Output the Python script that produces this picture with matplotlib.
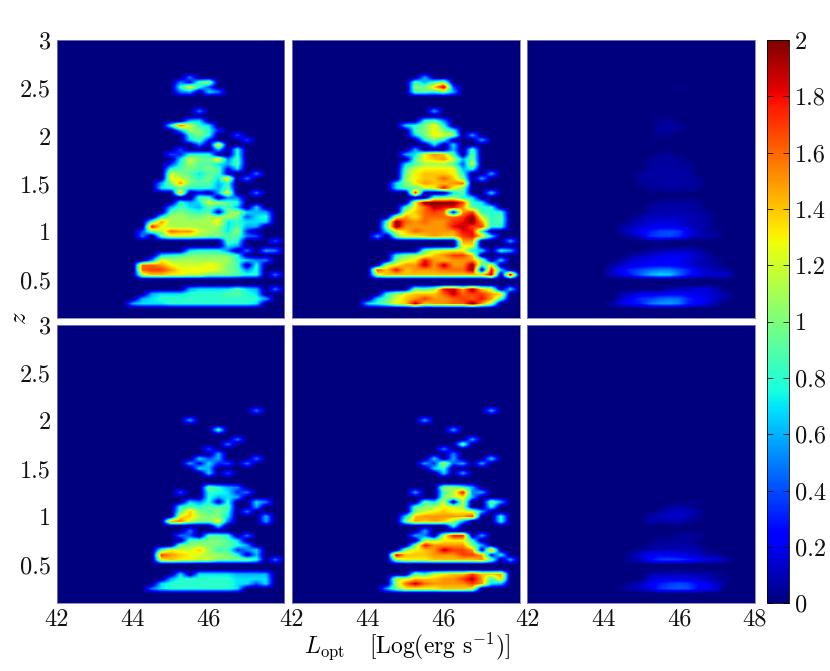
import numpy as np
import matplotlib
matplotlib.use("Agg")
import matplotlib.pyplot as plt
from matplotlib.cm import ScalarMappable
from matplotlib.colors import Normalize

L_nodes = [42 + 0.25 * i for i in range(25)]
z_nodes = [round(0.10 + 0.05 * i, 2) for i in range(59)]
FIRST_COL_L = 44.0   # column 0 of the sparse rows below

# values in tenths: {z: {column: value}}
top_left = {
 2.60:{6:5}, 2.55:{5:5,6:2,7:9,8:11}, 2.50:{5:8,6:13,7:8,8:4}, 2.45:{5:5,6:6,8:7,9:5},
 2.25:{7:5}, 2.15:{6:6,7:7}, 2.10:{4:8,5:16,6:12,7:8,8:7}, 2.05:{5:6,6:11,7:10,8:8,9:3},
 2.00:{6:8,7:10,8:8,11:4}, 1.95:{6:7,7:9,8:3,12:4}, 1.90:{7:5,9:14}, 1.85:{5:4,9:6,11:8},
 1.80:{4:4,5:3,6:8,7:8,8:8,11:8}, 1.75:{5:7,6:12,7:10,8:9,9:14,10:5,11:9},
 1.70:{4:3,5:8,6:11,7:9,8:9,9:7,10:6,11:9}, 1.65:{4:8,5:9,6:10,7:9,8:10,9:9,10:2,11:7},
 1.60:{4:12,5:10,6:9,7:7,8:9,9:9,10:1,13:5}, 1.55:{4:13,5:12,6:10,7:8,8:10,9:7,10:14,12:5},
 1.50:{3:6,4:10,5:15,6:10,7:9,8:9,9:6,10:8}, 1.45:{3:7,4:8,5:9,6:8,7:8,8:8,9:6,10:9},
 1.40:{5:15,7:2,9:6,10:13,13:5}, 1.35:{7:9,8:9,10:5,11:5},
 1.30:{5:8,6:6,7:7,8:12,9:11,10:9,11:8}, 1.25:{4:6,5:9,6:7,7:6,8:9,9:7,10:9,11:6,13:7},
 1.20:{4:9,5:10,6:9,7:8,8:9,9:1,10:10,11:11,12:7,13:6,14:6},
 1.15:{3:8,4:11,5:11,6:10,7:10,8:11,9:11,10:11,11:10,12:4,13:7,14:8},
 1.10:{2:9,3:15,4:11,5:11,6:11,7:11,8:11,9:13,10:7,11:8,12:7,13:7,14:7},
 1.05:{2:18,3:13,4:11,5:11,6:11,7:11,8:11,9:11,10:7,11:9,12:6,13:6},
 1.00:{1:4,2:10,3:11,4:16,5:15,6:15,7:12,8:11,9:10,10:7,11:11,12:3},
 0.95:{1:5,3:9,4:12,5:12,6:12,7:11,8:10,9:10,10:9,11:9,12:5,13:4},
 0.90:{10:9,11:8,15:4}, 0.85:{10:7,11:6},
 0.80:{6:7,7:8,8:8,9:8,10:5,12:5,14:6,15:5},
 0.75:{3:7,4:8,5:9,6:10,7:10,8:10,9:10,10:10,11:8},
 0.70:{2:5,3:13,4:11,5:11,6:11,7:11,8:11,9:11,10:11,11:8,12:7,13:5,14:5},
 0.65:{1:16,2:16,3:15,4:13,5:12,6:12,7:12,8:13,9:12,10:10,11:9,13:8},
 0.60:{1:16,2:17,3:17,4:15,5:13,6:13,7:13,8:13,9:12,10:10,11:9,12:5,13:8},
 0.55:{1:12,2:14,3:14,4:13,5:13,6:12,7:12,8:10,9:10,10:10,11:9,12:8,13:8,15:5},
 0.40:{6:6,7:7,8:7,9:7,10:7,11:9,12:7,13:6,15:5},
 0.35:{2:6,3:7,4:7,5:7,6:8,7:8,8:8,9:8,10:9,11:9,12:8,13:7},
 0.30:{1:6,2:7,3:8,4:8,5:8,6:8,7:8,8:8,9:8,10:8,11:8,12:8,13:8,14:6},
 0.25:{0:6,1:7,2:7,3:7,4:8,5:8,6:8,7:8,8:8,9:8,10:8,11:8,12:8,13:7},
}
top_mid = {
 2.60:{6:6}, 2.55:{5:9,6:6,7:9,8:11}, 2.50:{5:10,6:10,7:14,8:19,9:4}, 2.45:{5:9,6:9,7:8,8:10,9:6},
 2.25:{7:6}, 2.15:{6:8,7:9,8:5}, 2.10:{4:7,5:8,6:10,7:13,8:8}, 2.05:{5:9,6:10,7:13,8:10,9:8},
 2.00:{5:7,6:10,7:13,8:12,9:11,11:6}, 1.95:{6:8,7:10,8:8,12:6}, 1.90:{7:7,9:7}, 1.85:{5:6,9:6,11:9},
 1.80:{4:6,5:7,6:13,7:15,8:14,9:9,11:10}, 1.75:{5:9,6:13,7:14,8:15,9:12,10:6,11:10},
 1.70:{4:7,5:9,6:11,7:11,8:11,9:9,10:4,11:12}, 1.65:{4:9,5:12,6:13,7:13,8:13,9:13,10:6,11:8},
 1.60:{4:10,5:13,6:14,7:14,8:14,9:13,10:8,13:6}, 1.55:{4:11,5:13,6:14,7:14,8:16,9:14,10:10,12:6},
 1.50:{3:7,4:10,5:13,6:15,7:14,8:14,9:15,10:16}, 1.45:{3:7,4:9,5:9,6:12,7:13,8:18,9:13,10:10},
 1.40:{5:18,9:7,10:9,13:7}, 1.35:{7:10,8:10,9:11,10:8,11:7},
 1.30:{5:13,6:20,7:20,8:20,9:20,10:17,11:8,12:7}, 1.25:{4:9,5:13,6:16,7:19,8:18,9:18,10:15,11:9,12:8,13:8},
 1.20:{4:12,5:14,6:16,7:17,8:16,9:1,10:15,11:17,12:8,13:8,14:8},
 1.15:{3:12,4:15,5:13,6:16,7:16,8:16,9:16,10:17,11:20,12:12,13:8,14:9},
 1.10:{2:9,3:20,4:16,5:15,6:16,7:15,8:15,9:17,10:18,11:20,12:15,13:8,14:9},
 1.05:{2:10,3:20,4:15,5:15,6:15,7:15,8:15,9:18,10:19,11:17,12:17,13:8,14:8},
 1.00:{2:7,3:12,4:14,5:16,6:15,7:15,8:15,9:15,10:18,11:18,12:8},
 0.95:{1:6,3:10,4:13,5:13,6:14,7:15,8:14,9:14,10:17,11:18,12:14,13:7},
 0.90:{10:15,11:15,15:6}, 0.85:{10:13,11:13},
 0.80:{6:10,7:12,8:13,9:13,10:13,11:7,12:7,14:8,15:6},
 0.75:{3:8,4:10,5:11,6:12,7:14,8:15,9:17,10:17,11:14},
 0.70:{3:10,4:12,5:13,6:18,7:15,8:14,9:15,10:15,11:15,12:11,14:7},
 0.65:{2:12,3:13,4:15,5:15,6:19,7:15,8:19,9:15,10:15,11:20,12:9,13:13},
 0.60:{1:17,2:14,3:18,4:14,5:15,6:15,7:15,8:16,9:16,10:16,11:20,12:0,13:18,14:7},
 0.55:{1:12,2:14,3:14,4:14,5:14,6:14,7:14,8:14,9:14,10:14,11:14,12:14,13:19,15:20},
 0.40:{5:10,6:9,7:11,8:18,9:19,10:15,11:20,12:14,13:12,15:7},
 0.35:{2:8,3:11,4:13,5:14,6:14,7:14,8:16,9:19,10:16,11:17,12:17,13:15,14:14},
 0.30:{1:7,2:9,3:12,4:14,5:15,6:17,7:15,8:15,9:16,10:17,11:16,12:18,13:15,14:9},
 0.25:{0:7,1:8,2:10,3:13,4:14,5:19,6:14,7:15,8:15,9:16,10:16,11:20,12:15,13:11},
}
top_right = {
 2.50:{8:0.3}, 2.15:{6:0.4,7:0.5}, 2.10:{6:0.5,7:0.6,8:0.4}, 2.05:{6:0.5,7:0.5,8:0.3}, 2.00:{6:0.4,7:0.4},
 1.80:{6:.4,7:.5}, 1.75:{5:.3,6:.5,7:.6,8:.5}, 1.70:{5:.5,6:.6,7:.6,8:.6,9:.4},
 1.65:{5:.5,6:.6,7:.7,8:.6,9:.6}, 1.60:{4:.5,5:.7,6:.7,7:.7,8:.7,9:.6},
 1.55:{4:.5,5:.6,6:.6,7:.7,8:.6,9:.6,10:.4}, 1.50:{4:.4,5:.5,6:.6,7:.7,8:.7,9:.6,10:.5},
 1.45:{5:.4,6:.6,7:.6,8:.6,9:.5,10:.3}, 1.30:{6:.5,7:.6,8:.6,9:.6,10:.4},
 1.25:{5:.6,6:.8,7:.8,8:.8,9:.7,10:.5}, 1.20:{5:.7,6:.8,7:.8,8:.8,9:.7,10:.7,11:.3},
 1.15:{4:.8,5:1,6:1.2,7:1.2,8:1.2,9:1,10:.8,11:.6}, 1.10:{3:.6,4:1,5:1.4,6:1.6,7:1.6,8:1.4,9:1,10:.8,11:.6},
 1.05:{2:.6,3:1,4:1.4,5:1.9,6:2,7:2,8:1.8,9:1.3,10:.8,11:.6},
 1.00:{2:.7,3:1.5,4:2.2,5:3,6:3.8,7:4,8:3.6,9:2,10:1,11:.6,12:.3},
 0.95:{3:.8,4:1.5,5:3.4,6:3.8,7:4,8:3.4,9:1.6,10:1,11:.7,12:.5},
 0.90:{6:.5}, 0.80:{5:.5,6:.8,7:1,8:1.2,9:1.2,10:.8},
 0.75:{3:.5,4:1,5:1.4,6:1.8,7:2,8:2,9:1.8,10:1.2,11:.7},
 0.70:{2:.6,3:1.4,4:1.8,5:2,6:2.4,7:2.4,8:2.2,9:1.6,10:1.2,11:.7,12:.4},
 0.65:{1:.6,2:1.2,3:1.8,4:2,5:2.2,6:2.4,7:2.4,8:2,9:1.6,10:1,11:.8,12:.5},
 0.60:{1:1.4,2:2.4,3:3.4,4:4,5:4.6,6:5,7:5,8:4.2,9:3.2,10:1.8,11:1.2,12:.8,13:.6},
 0.55:{1:1.2,2:2,3:3.2,4:4.5,5:6,6:6.8,7:6.6,8:4.6,9:3,10:2,11:1.5,12:1.6,13:1.6},
 0.40:{7:.8,8:1,9:1.2,10:1.6,11:1.6,12:.8},
 0.35:{2:.8,3:1.2,4:2,5:2,6:2,7:2.2,8:2.2,9:2,10:1.8,11:1.6,12:1.2,13:.7},
 0.30:{2:1.4,3:2.4,4:3.4,5:3.6,6:4.4,7:4.8,8:4.6,9:3.2,10:2.4,11:2,12:1.2,13:.6},
 0.25:{1:.8,2:1.8,3:2.6,4:3,5:4.8,6:5.4,7:5.6,8:5,9:3,10:2.4,11:1.6,12:.6},
}
bottom_left = {
 2.10:{13:5}, 2.00:{6:6}, 1.90:{9:9}, 1.80:{11:5}, 1.75:{10:5}, 1.70:{8:4}, 1.65:{9:6},
 1.60:{7:7,8:4,9:6,13:5}, 1.55:{6:6,7:2,8:7,9:3,10:4,12:5}, 1.50:{7:7,8:6}, 1.45:{8:7,10:4},
 1.30:{8:10,9:8,10:6,11:5}, 1.25:{5:4,8:8,9:8,10:7,11:3,12:5}, 1.20:{8:8,9:6,10:7,11:6},
 1.15:{6:7,7:5,8:8,9:1,10:8,13:7,14:5}, 1.10:{5:8,6:9,7:8,8:9,9:9,10:9,13:6},
 1.05:{5:9,6:14,7:10,8:9,9:10,10:8,12:5}, 1.00:{5:13,6:14,7:11,8:10,9:10,10:7,14:6},
 0.95:{4:15,5:16,6:12,7:10,8:10,9:13,10:5,14:6}, 0.90:{9:7}, 0.85:{6:5},
 0.80:{5:5,6:4,8:9,9:9,10:8,12:5}, 0.75:{6:9,7:9,8:10,9:10,10:9,11:7},
 0.70:{5:10,6:10,7:11,8:10,9:10,10:9,11:8,12:6},
 0.65:{3:9,4:13,5:12,6:12,7:14,8:11,9:8,10:9,11:3,12:5,13:7},
 0.60:{3:17,4:15,5:14,6:13,7:12,8:11,9:11,10:10,11:8,12:1,13:6},
 0.55:{3:13,4:14,5:13,6:13,7:12,8:12,9:10,10:10,11:10,12:10,13:8,15:5},
 0.40:{5:7,7:7,8:7,9:7,10:7,11:6,12:6,13:6,14:6},
 0.35:{4:6,5:8,6:8,7:8,8:8,9:8,10:8,11:7,12:7,13:7,14:7},
 0.30:{3:7,4:8,5:8,6:8,7:8,8:8,9:8,10:8,11:7,12:7,13:4,14:7},
 0.25:{2:5,3:7,4:8,5:8,6:8,7:8,8:8,9:8,10:8,11:7},
}
bottom_mid = {
 2.10:{13:6}, 2.00:{6:6}, 1.90:{9:6}, 1.80:{11:6}, 1.75:{10:10}, 1.70:{8:5}, 1.65:{9:5},
 1.60:{7:7,9:6,13:7}, 1.55:{6:6,7:3,8:12,9:4,10:6,12:6}, 1.50:{7:7,8:8}, 1.45:{8:7,10:6},
 1.30:{8:11,9:11,10:9,11:6}, 1.25:{5:6,8:9,9:11,10:18,11:5,12:6}, 1.20:{8:10,9:12,10:13,11:6},
 1.15:{6:9,7:7,8:12,9:0,10:12,13:10,14:6}, 1.10:{5:9,6:10,7:11,8:13,9:12,10:11,13:8},
 1.05:{5:10,6:12,7:13,8:14,9:13,10:13,11:12,12:6}, 1.00:{4:7,5:14,6:15,7:15,8:15,9:15,10:15,11:17,14:8},
 0.95:{4:10,5:15,6:14,7:15,8:14,9:11,10:6,14:8}, 0.90:{9:8}, 0.85:{6:6},
 0.80:{5:6,6:5,8:12,9:18,10:18,12:6}, 0.75:{6:11,7:11,8:13,9:13,10:13,11:8},
 0.70:{5:10,6:18,7:15,8:15,9:15,10:15,11:10,12:6},
 0.65:{4:11,5:13,6:14,7:15,8:19,9:17,10:17,11:15,12:1,13:16},
 0.60:{3:19,4:14,5:14,6:14,7:15,8:15,9:15,10:17,11:17,12:15,13:2,14:8},
 0.55:{3:11,4:13,5:13,6:13,7:14,8:14,9:14,10:14,11:14,12:15,13:10,15:6},
 0.40:{5:10,6:8,7:12,8:13,9:14,10:14,11:17,12:14,13:14,14:15},
 0.35:{3:12,4:12,5:14,6:14,7:14,8:15,9:15,10:17,11:19,12:15,13:8,14:14},
 0.30:{3:11,4:16,5:19,6:16,7:15,8:15,9:15,10:15,11:17,12:15,13:7,14:6},
 0.25:{2:6,3:10,4:13,5:13,6:13,7:13,8:14,9:14,10:14,11:13},
}
bottom_right = {
 1.15:{10:.4}, 1.10:{7:.5,8:.8,9:.6}, 1.05:{6:.6,7:1,8:1.2,9:1,10:.6},
 1.00:{5:.7,6:1,7:1.3,8:1.4,9:1,10:.4}, 0.95:{5:.9,6:.6,7:.8,8:.8,9:.5},
 0.80:{8:.4,9:.6,10:.6}, 0.75:{6:.5,7:.5,8:.5,9:.5}, 0.70:{5:.4,6:.6,7:.7,8:.7,9:.7,10:.5},
 0.65:{4:.5,5:.9,6:1,7:1,8:1,9:1,10:.8,11:.3},
 0.60:{3:.7,4:1.5,5:2,6:2.2,7:2.2,8:1.8,9:1.6,10:1.2,11:.6,12:.5},
 0.55:{3:.6,4:1.2,5:2.6,6:3.6,7:3.8,8:3.6,9:3,10:2.2,11:1.8,12:1.6,13:.8},
 0.40:{5:.6,6:1,7:1,8:1,9:1,10:.8,11:.8,12:.4},
 0.35:{5:1.6,6:1.8,7:1.8,8:1.8,9:1.6,10:1.4,11:1,12:.6,13:.4},
 0.30:{3:.6,4:1.2,5:2,6:3,7:3.6,8:4,9:3.6,10:2.6,11:2,12:1.2,13:.4},
 0.25:{2:.4,3:.8,4:1.4,5:2,6:3.4,7:4,8:4.2,9:4,10:2.6,11:2.2,12:1.6},
}

panels = [top_left, top_mid, top_right, bottom_left, bottom_mid, bottom_right]
x_ticks = [42, 44, 46, 48]
y_ticks = [0.5, 1, 1.5, 2, 2.5, 3]
y_labels = ["0.5", "1", "1.5", "2", "2.5", "3"]
cbar_ticks = [0, .2, .4, .6, .8, 1, 1.2, 1.4, 1.6, 1.8, 2]
cbar_labels = ["0", "0.2", "0.4", "0.6", "0.8", "1", "1.2", "1.4", "1.6", "1.8", "2"]

plt.rcParams["font.family"] = ["cmr10", "DejaVu Serif"]
plt.rcParams["mathtext.fontset"] = "cm"
plt.rcParams["axes.unicode_minus"] = False

W, H = 830, 671
fig = plt.figure(figsize=(W / 100, H / 100), dpi=100)


def box(x0, x1, ytop, ybot):
    return [x0 / W, 1 - ybot / H, (x1 - x0) / W, (ybot - ytop) / H]


def grid_of(rows):
    g = np.zeros((len(z_nodes), len(L_nodes)))
    offset = L_nodes.index(FIRST_COL_L)
    for z, cells in rows.items():
        i = z_nodes.index(round(z, 2))
        for c, v in cells.items():
            g[i, c + offset] = v / 10.0
    return g


xs = [(56.7, 284.3), (292, 519.7), (527.3, 755)]
ys = [(40, 318.3), (324.7, 603.3)]
norm = Normalize(0, 2)
FS = 17.5
dL, dz = 0.25, 0.05
for idx, rows in enumerate(panels):
    r, c = divmod(idx, 3)
    ax = fig.add_axes(box(xs[c][0], xs[c][1], ys[r][0], ys[r][1]))
    ax.imshow(grid_of(rows), cmap="jet", norm=norm, origin="lower", aspect="auto",
              interpolation="bilinear",
              extent=(L_nodes[0] - dL / 2, L_nodes[-1] + dL / 2,
                      z_nodes[0] - dz / 2, z_nodes[-1] + dz / 2))
    ax.set_xlim(42, 48)
    ax.set_ylim(0.1, 3)
    for s in ax.spines.values():
        s.set_color("#7f7fb5")
        s.set_linewidth(0.6)
    ax.tick_params(length=0, labelsize=FS, colors="#111111", pad=4)
    if r == 1:
        shown = x_ticks if c == 2 else x_ticks[:-1]
        ax.set_xticks(shown)
        ax.set_xticklabels([str(t) for t in shown])
    else:
        ax.set_xticks([])
    if c == 0:
        ax.set_yticks(y_ticks)
        ax.set_yticklabels(y_labels)
    else:
        ax.set_yticks([])

cax = fig.add_axes(box(766.7, 789, 40, 603.3))
cb = fig.colorbar(ScalarMappable(norm=norm, cmap="jet"), cax=cax)
cb.set_ticks(cbar_ticks)
cb.set_ticklabels(cbar_labels)
cax.tick_params(axis="y", length=4, width=0.6, direction="in", labelsize=FS, pad=4,
                colors="#111111", left=True, right=True)
cb.outline.set_linewidth(0.6)

fig.text(407 / W, 1 - 646 / H, r"$L_{\rm opt}$   [Log(erg s$^{-1}$)]", ha="center", va="center", fontsize=17)
fig.text(20 / W, 1 - 318 / H, r"$z$", rotation=90, ha="center", va="center", fontsize=18)

fig.savefig("out.png", dpi=100)
